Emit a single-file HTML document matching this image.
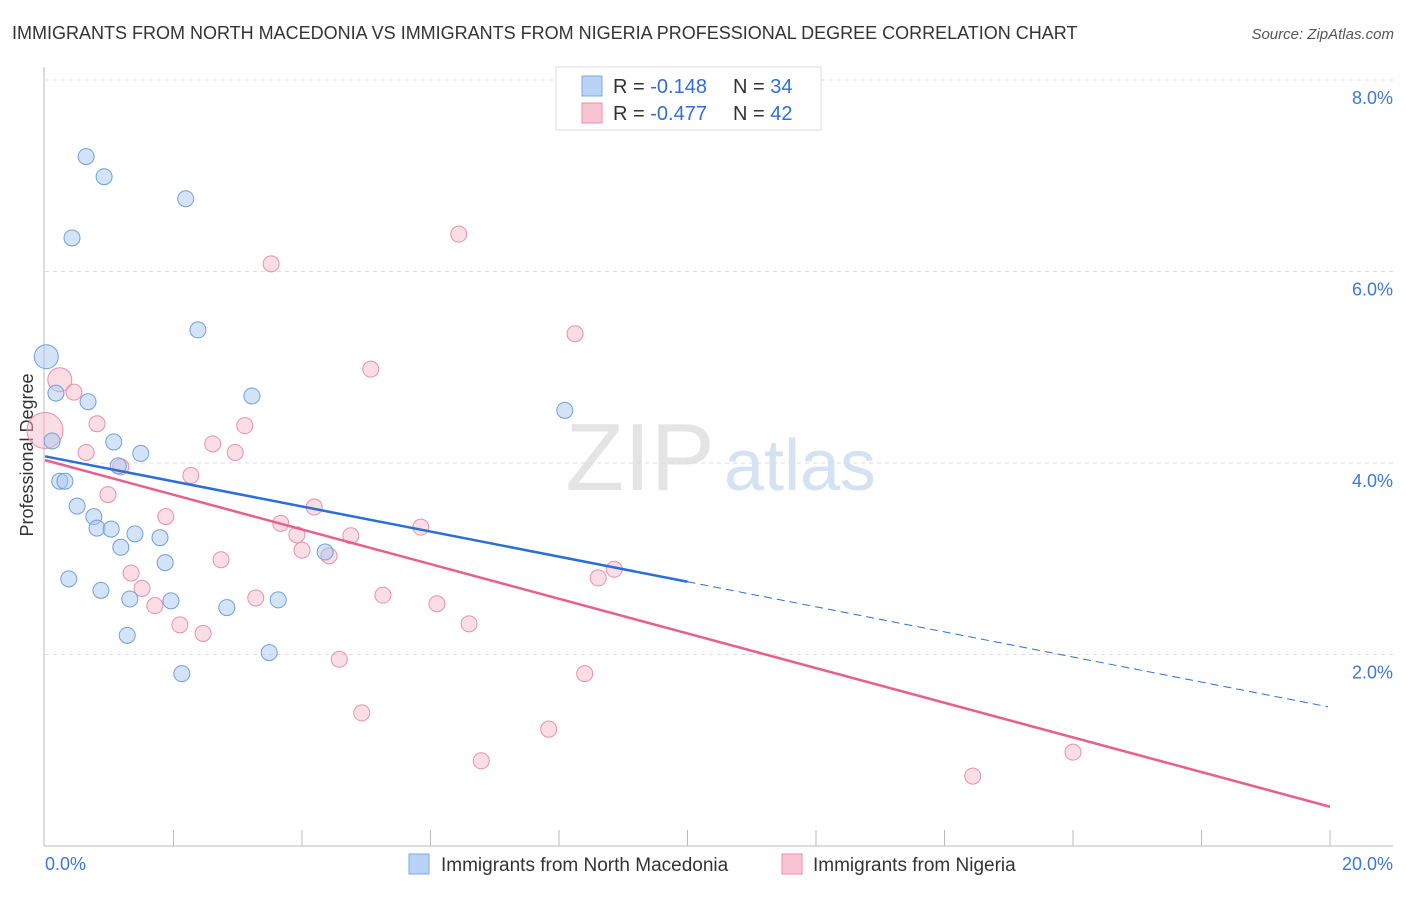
<!DOCTYPE html>
<html><head><meta charset="utf-8"><style>
body{margin:0;background:#fff;font-family:"Liberation Sans",sans-serif;}
svg text{font-family:"Liberation Sans",sans-serif;}
</style></head><body>
<svg id="c" width="1406" height="892">
<text x="12" y="39" font-size="18" fill="#333">IMMIGRANTS FROM NORTH MACEDONIA VS IMMIGRANTS FROM NIGERIA PROFESSIONAL DEGREE CORRELATION CHART</text>
<text x="1394" y="39" font-size="15" fill="#555" font-style="italic" text-anchor="end">Source: ZipAtlas.com</text>
<text x="640" y="490" font-size="96" fill="#e4e4e4" font-family="Liberation Serif" text-anchor="middle">ZIP</text>
<text x="800" y="490" font-size="72" fill="#d4e2f4" text-anchor="middle">atlas</text>
<text transform="translate(33,455) rotate(-90)" font-size="18" fill="#333" text-anchor="middle">Professional Degree</text>
<g id="grid"></g><g id="pts"></g><g id="lines"></g>
<g>
<rect x="556" y="67" width="265" height="63" fill="#fff" stroke="#ddd"/>
<rect x="582" y="76" width="20" height="20" fill="#b8d3f5" stroke="#7fa8e0"/>
<rect x="582" y="103" width="20" height="20" fill="#f9c5d5" stroke="#eb8fab"/>
<text x="613" y="93" font-size="20" fill="#333">R = <tspan fill="#2f6fd0">-0.148</tspan></text>
<text x="733" y="93" font-size="20" fill="#333">N = <tspan fill="#2f6fd0">34</tspan></text>
<text x="613" y="120" font-size="20" fill="#333">R = <tspan fill="#2f6fd0">-0.477</tspan></text>
<text x="733" y="120" font-size="20" fill="#333">N = <tspan fill="#2f6fd0">42</tspan></text>
</g>
<g>
<rect x="409" y="854" width="20" height="20" fill="#b8d3f5" stroke="#7fa8e0"/>
<text x="441" y="871" font-size="19" fill="#333">Immigrants from North Macedonia</text>
<rect x="782" y="854" width="20" height="20" fill="#f9c5d5" stroke="#eb8fab"/>
<text x="813" y="871" font-size="19" fill="#333">Immigrants from Nigeria</text>
</g>
</svg>
<script>
const blueX=[0.64,0.92,2.19,0.42,2.38,0.02,0.17,0.67,3.22,8.09,0.11,1.07,1.49,1.14,0.23,0.31,0.50,0.76,0.81,1.03,1.40,1.18,1.79,1.87,0.37,0.87,1.32,1.96,2.83,3.63,1.28,3.49,2.13,4.36];
const blueY=[7.20,6.99,6.76,6.35,5.39,5.11,4.73,4.64,4.70,4.55,4.23,4.22,4.10,3.97,3.81,3.81,3.55,3.44,3.32,3.31,3.26,3.12,3.22,2.96,2.79,2.67,2.58,2.56,2.49,2.57,2.20,2.02,1.80,3.07];
const pinkX=[0.23,0.00,0.45,0.81,0.64,1.18,0.98,2.27,2.61,2.96,3.11,3.52,6.44,8.25,5.07,1.88,1.34,1.51,1.71,2.10,2.46,2.74,3.28,3.67,3.92,4.00,4.19,4.42,4.76,4.58,4.93,5.26,5.85,6.10,6.60,6.79,7.84,8.40,8.61,8.86,14.44,16.00];
const pinkY=[4.87,4.34,4.74,4.41,4.11,3.96,3.67,3.87,4.20,4.11,4.39,6.08,6.39,5.35,4.98,3.44,2.85,2.69,2.51,2.31,2.22,2.99,2.59,3.37,3.25,3.09,3.54,3.03,3.24,1.95,1.39,2.62,3.33,2.53,2.32,0.89,1.22,1.80,2.80,2.89,0.73,0.98];
const blueTrend=[4.07,-0.131];
const pinkTrend=[4.03,-0.181];
const yTicks=[2,4,6,8];
const xTickLabels=["0.0%","20.0%"];
const NS="http://www.w3.org/2000/svg";
const X=v=>45+v*64.25, Y=v=>846-v*95.75;
function mk(t,a,p){const e=document.createElementNS(NS,t);for(const k in a)e.setAttribute(k,a[k]);p.appendChild(e);return e;}
const grid=document.getElementById('grid');
yTicks.forEach(t=>{
 const l=mk('line',{x1:45,x2:1393,y1:Y(t),y2:Y(t),stroke:'#ddd','stroke-dasharray':'4,4'},grid);
 
 
 const tx=mk('text',{x:1393,y:Y(t)+24,'font-size':18,fill:'#3f78d0','text-anchor':'end'},grid);
 tx.textContent=t.toFixed(1)+'%';
 
 
});
mk('line',{x1:44,x2:44,y1:67,y2:846,stroke:'#bbb'},grid);
const ax=mk('line',{x1:44,x2:1393,y1:846,y2:846,stroke:'#bbb'},grid);


for(let i=1;i<=10;i++){const tk=mk('line',{x1:X(i*2),x2:X(i*2),y1:830,y2:846,stroke:'#bbb'},grid);
 
 }
[[0,'start',45],[1,'end',1393]].forEach(([i,anc,x])=>{const t=mk('text',{x:x,y:870,'font-size':18,fill:'#3f78d0','text-anchor':anc},grid);t.textContent=xTickLabels[i];
 
 });
const pts=document.getElementById('pts');
pinkX.forEach((x,i)=>{const r=i==1?18:(i==0?12:8);
 const c=mk('circle',{cx:X(x),cy:Y(pinkY[i]),r:r,fill:'rgba(247,180,200,0.45)',stroke:'#eb8fab','stroke-width':1},pts);
 
 });
blueX.forEach((x,i)=>{const r=i==5?12:8;
 const c=mk('circle',{cx:X(x),cy:Y(blueY[i]),r:r,fill:'rgba(170,200,240,0.5)',stroke:'#6f9fdf','stroke-width':1},pts);
 
 });
const lines=document.getElementById('lines');
const bt=v=>blueTrend[0]+blueTrend[1]*v, pt=v=>pinkTrend[0]+pinkTrend[1]*v;
let l1=mk('line',{x1:X(0),y1:Y(bt(0)),x2:X(10),y2:Y(bt(10)),stroke:'#2a6fd6','stroke-width':2.5},lines);


let l2=mk('line',{x1:X(10),y1:Y(bt(10)),x2:X(19.97),y2:Y(bt(19.97)),stroke:'#2a6fd6','stroke-width':1,'stroke-dasharray':'8,5'},lines);


let l3=mk('line',{x1:X(0),y1:Y(pt(0)),x2:X(20),y2:Y(pt(20)),stroke:'#e8608a','stroke-width':2.5},lines);


</script>
</body></html>
